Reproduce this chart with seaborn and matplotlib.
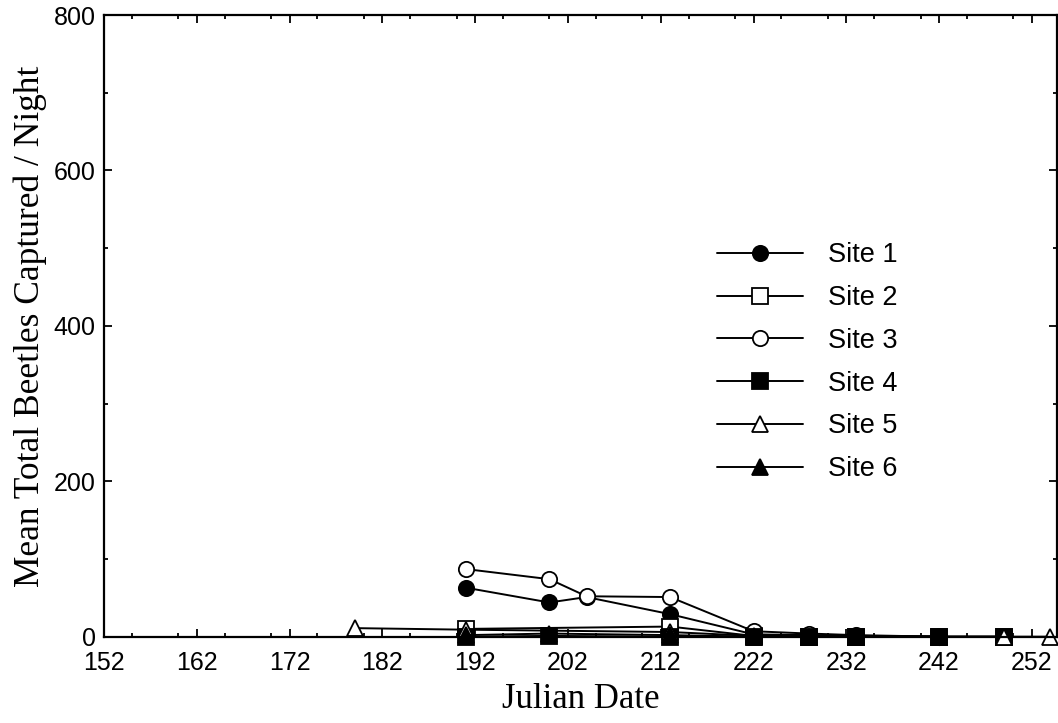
import matplotlib
matplotlib.use("Agg")
import matplotlib.pyplot as plt
from matplotlib.ticker import MultipleLocator
import pandas as pd
import seaborn as sns

# sampling days (Julian) and mean beetles / night per site
site1_days = [191, 200, 204, 213, 222, 228, 233, 242]
site1_vals = [63, 44, 51, 29, 3, 2, 1, 0]

site2_days = [191, 213, 222, 228, 233, 242, 249]
site2_vals = [10, 13, 1, 0, 0, 0, 0]

site3_days = [191, 200, 204, 213, 222, 228, 233, 242]
site3_vals = [87, 74, 52, 51, 7, 4, 2, 0]

site4_days = [191, 200, 213, 222, 228, 233, 242, 249]
site4_vals = [0, 1, 0, 0, 0, 0, 0, 0]

site5_days = [179, 191, 213, 222, 228, 233, 242, 249, 254]
site5_vals = [11, 9, 6, 1, 0, 0, 0, 0, 0]

site6_days = [191, 200, 213, 222, 228, 233, 242]
site6_vals = [2, 4, 2, 0, 0, 0, 0]

site_names = ["Site 1", "Site 2", "Site 3", "Site 4", "Site 5", "Site 6"]

sns.set_style("ticks")
plt.rcParams["font.family"] = ["Liberation Sans", "DejaVu Sans"]
for k in ["text.color", "axes.labelcolor", "xtick.color", "ytick.color", "axes.edgecolor"]:
    plt.rcParams[k] = "black"

series = [
    (site1_days, site1_vals, "o", "black"),
    (site2_days, site2_vals, "s", "white"),
    (site3_days, site3_vals, "o", "white"),
    (site4_days, site4_vals, "s", "black"),
    (site5_days, site5_vals, "^", "white"),
    (site6_days, site6_vals, "^", "black"),
]

fig = plt.figure(figsize=(10.58, 7.23), dpi=100)
ax = fig.add_axes([0.0983, 0.1194, 0.9007, 0.8598])

for name, (days, vals, mk, fc) in zip(site_names, series):
    df = pd.DataFrame({"day": days, "beetles": vals})
    sns.lineplot(data=df, x="day", y="beetles", ax=ax, color="black",
                 linewidth=1.4, marker=mk, markersize=11,
                 markerfacecolor=fc, markeredgecolor="black",
                 markeredgewidth=1.3, label=name, clip_on=False)

ax.set_xlim(152, 254.7)
ax.set_ylim(0, 800)
ax.set_xticks(range(152, 253, 10))
ax.xaxis.set_minor_locator(MultipleLocator(5))
ax.yaxis.set_major_locator(MultipleLocator(200))
ax.yaxis.set_minor_locator(MultipleLocator(100))
ax.tick_params(which="both", direction="in", top=True, right=True,
               labelsize=18, width=1.3)
ax.tick_params(which="major", length=6)
ax.tick_params(axis="x", which="major", pad=10)
ax.tick_params(axis="y", which="major", pad=6)
ax.tick_params(which="minor", length=3)
for sp in ax.spines.values():
    sp.set_linewidth(1.6)

ax.set_xlabel("Julian Date", family="Liberation Serif", fontsize=25, labelpad=6)
ax.set_ylabel("Mean Total Beetles Captured / Night", family="Liberation Serif",
              fontsize=25.5, labelpad=5)

ax.legend(loc="upper left", bbox_to_anchor=(0.6549, 0.6986),
          bbox_transform=fig.transFigure, frameon=False, fontsize=19.5,
          handlelength=3.15, handletextpad=0.95, labelspacing=0.62)

fig.savefig("out.png", dpi=100)
